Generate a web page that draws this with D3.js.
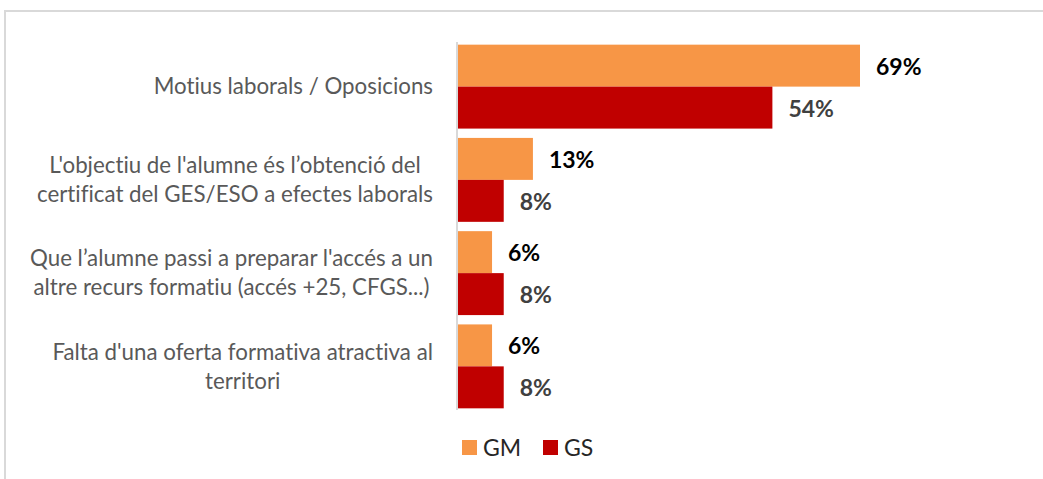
<!DOCTYPE html>
<html>
<head>
<meta charset="utf-8">
<script src="https://cdn.jsdelivr.net/npm/d3@7"></script>
<style>
  html, body { margin: 0; padding: 0; background: #fff; }
  svg { display: block; }
  text { font-family: Lato, "Open Sans", sans-serif; font-variant-ligatures: none; font-feature-settings: "liga" 0; }
</style>
</head>
<body>
<svg id="chart" width="1043" height="479"></svg>
<script>
const categories = [
  ["Motius laborals / Oposicions"],
  ["L'objectiu de l'alumne és l’obtenció del", "certificat del GES/ESO a efectes laborals"],
  ["Que l’alumne passi a preparar l'accés a un", "altre recurs formatiu (accés +25, CFGS...)"],
  ["Falta d'una oferta formativa atractiva al", "territori"]
];
const seriesNames = ["GM", "GS"];
const gmValues = [69, 13, 6, 6];
const gsValues = [54, 8, 8, 8];
const seriesColors = ["#F79646", "#C00000"];
const labelColors = ["#000000", "#404040"];

const svg = d3.select("#chart");
const W = 1043, H = 479;

// chart frame
svg.append("rect").attr("x", 5).attr("y", 11).attr("width", W + 10).attr("height", H + 10)
  .attr("fill", "none").attr("stroke", "#d9d9d9").attr("stroke-width", 2);

const x0 = 457;
const x = d3.scaleLinear().domain([0, 69]).range([x0, 860]);
const y = d3.scaleBand().domain(d3.range(categories.length)).range([40, 413])
  .paddingInner(0.1).paddingOuter(0.05);
const ySub = d3.scaleBand().domain(seriesNames).range([0, y.bandwidth()]);

const data = categories.map((c, i) => ({ i, values: [gmValues[i], gsValues[i]] }));

const groups = svg.append("g").selectAll("g").data(data).join("g")
  .attr("transform", d => `translate(0,${y(d.i)})`);

groups.selectAll("rect").data(d => d.values.map((v, k) => ({ v, k })))
  .join("rect")
  .attr("x", x(0))
  .attr("y", d => ySub(seriesNames[d.k]))
  .attr("width", d => x(d.v) - x(0))
  .attr("height", ySub.bandwidth())
  .attr("fill", d => seriesColors[d.k]);

groups.selectAll("text.val").data(d => d.values.map((v, k) => ({ v, k })))
  .join("text")
  .attr("class", "val")
  .attr("x", d => x(d.v) + 16)
  .attr("y", d => ySub(seriesNames[d.k]) + ySub.bandwidth() / 2 + 1)
  .attr("dy", "0.35em")
  .attr("font-size", 23)
  .attr("font-weight", "bold")
  .attr("fill", d => labelColors[d.k])
  .text(d => d.v + "%");

// axis line
const yAxis = d3.axisLeft(y).tickSize(0).tickFormat("");
const ax = svg.append("g").attr("transform", `translate(${x0},0)`).call(yAxis);
ax.select(".domain").attr("stroke", "#d9d9d9").attr("stroke-width", 2)
  .attr("d", `M0,${y.range()[0] + 2}V${y.range()[1] - 3}`);

// category labels (centered block, right-aligned)
const labelRight = 433;
const lineH = 29;
categories.forEach((lines, i) => {
  const g = svg.append("g");
  const cy = y(i) + y.bandwidth() / 2;
  const texts = lines.map((t, j) => g.append("text")
    .attr("font-size", 22.3)
    .attr("fill", "#595959")
    .attr("y", cy + (j - (lines.length - 1) / 2) * lineH)
    .attr("dy", "0.35em")
    .attr("text-anchor", "middle")
    .text(t));
  const maxW = d3.max(texts, t => t.node().getComputedTextLength());
  texts.forEach(t => t.attr("x", labelRight - maxW / 2));
});

// legend
const legend = svg.append("g");
const legendItems = [{ name: "GM", x: 462 }, { name: "GS", x: 543 }];
legendItems.forEach((it, k) => {
  legend.append("rect").attr("x", it.x).attr("y", 440).attr("width", 15).attr("height", 15)
    .attr("fill", seriesColors[k]);
  legend.append("text").attr("x", it.x + 21).attr("y", 448).attr("dy", "0.35em")
    .attr("font-size", 23).attr("fill", "#262626").text(it.name);
});
</script>
</body>
</html>
